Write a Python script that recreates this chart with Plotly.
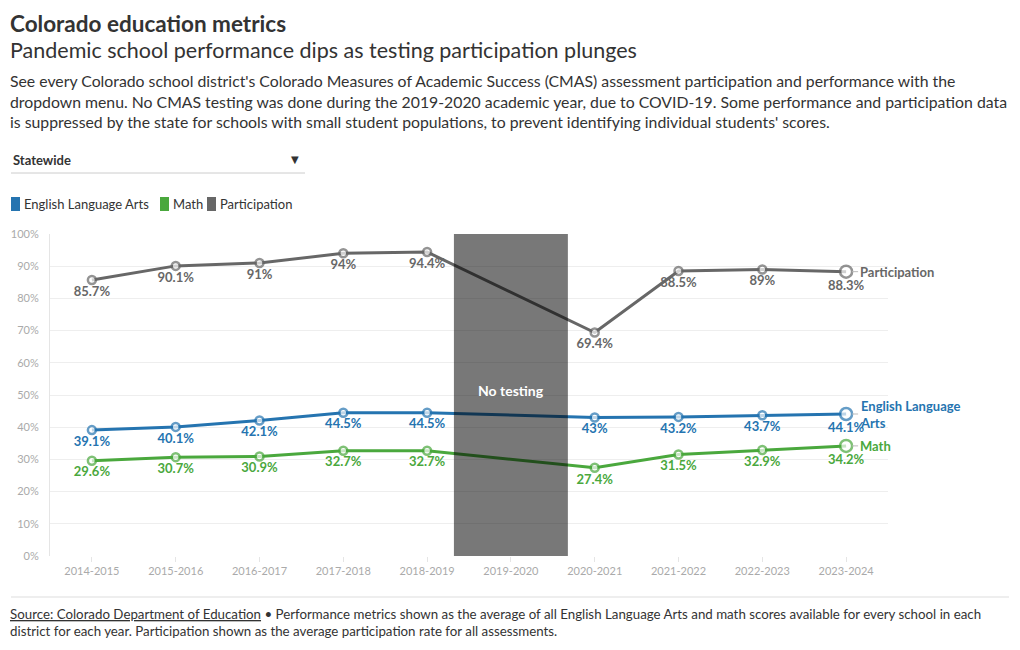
import plotly.graph_objects as go

years = ["2014-2015", "2015-2016", "2016-2017", "2017-2018", "2018-2019",
         "2019-2020", "2020-2021", "2021-2022", "2022-2023", "2023-2024"]
ela = [39.1, 40.1, 42.1, 44.5, 44.5, None, 43.0, 43.2, 43.7, 44.1]
math = [29.6, 30.7, 30.9, 32.7, 32.7, None, 27.4, 31.5, 32.9, 34.2]
participation = [85.7, 90.1, 91.0, 94.0, 94.4, None, 69.4, 88.5, 89.0, 88.3]
y_ticks = [0, 10, 20, 30, 40, 50, 60, 70, 80, 90, 100]
y_tick_labels = [f"{v}%" for v in y_ticks]

FONT = "Lato, 'Noto Sans', sans-serif"
C_ELA = "#2574b0"
C_MATH = "#4aa83d"
C_PART = "#676767"

W, H = 1020, 650
L, R, T, B = 50, 888, 234, 556
PAD = 3  # annotation inner padding compensation


def px(x):
    return (x - L) / (R - L)


def py(y):
    return (B - y) / (B - T)


def fmt(v):
    s = f"{v:.1f}"
    if s.endswith(".0"):
        s = s[:-2]
    return s + "%"


fig = go.Figure()

series = [("English Language Arts", ela, C_ELA),
          ("Math", math, C_MATH),
          ("Participation", participation, C_PART)]

for name, vals, col in series:
    n = len(vals)
    sizes = [8] * (n - 1) + [12]
    fig.add_trace(go.Scatter(
        x=years, y=vals, mode="lines+markers+text", name=name,
        connectgaps=True, showlegend=False,
        line=dict(color=col, width=3),
        marker=dict(size=sizes, color="white", line=dict(color=col, width=2.5)),
        text=[fmt(v) if v is not None else "" for v in vals],
        textposition="bottom center",
        textfont=dict(family=FONT, size=13, color=col, weight="bold"),
        cliponaxis=False,
        hoverinfo="skip",
    ))

# "No testing" band
fig.add_shape(type="rect", xref="x", yref="paper", x0=4.32, x1=5.68, y0=0, y1=1,
              fillcolor="rgba(0,0,0,0.53)", line=dict(width=0), layer="above")
fig.add_annotation(x=5, y=py(390), xref="x", yref="paper", text="<b>No testing</b>",
                   showarrow=False, font=dict(family=FONT, size=14, color="white"))

# end labels
end_labels = [("Participation", participation[-1], C_PART),
              ("English Language<br>Arts", ela[-1], C_ELA),
              ("Math", math[-1], C_MATH)]
for txt, v, col in end_labels:
    fig.add_annotation(
        x=years[-1], y=v, xref="x", yref="y", text=f"<b>{txt}</b>",
        showarrow=True, arrowhead=0, arrowwidth=1, arrowcolor="#bbbbbb",
        ax=12, ay=0, standoff=6, xanchor="left", yanchor="middle", align="left",
        font=dict(family=FONT, size=13, color=col),
    )

# legend (imitation)
legend_items = [("English Language Arts", C_ELA, 11), ("Math", C_MATH, 160), ("Participation", C_PART, 207)]
for name, col, x0 in legend_items:
    fig.add_shape(type="rect", xref="paper", yref="paper", x0=px(x0), x1=px(x0 + 9),
                  y0=py(211), y1=py(197), fillcolor=col, line=dict(width=0))
    fig.add_annotation(x=px(x0 + 13 - PAD + 1), y=py(204), xref="paper", yref="paper",
                       xanchor="left", yanchor="middle", text=name, showarrow=False,
                       font=dict(family=FONT, size=13, color="#333333"))

# header texts
fig.add_annotation(x=px(11 - PAD), y=py(23), xref="paper", yref="paper", xanchor="left", yanchor="middle",
                   text="<b>Colorado education metrics</b>", showarrow=False,
                   font=dict(family=FONT, size=22.5, color="#333333"))
fig.add_annotation(x=px(11 - PAD), y=py(50), xref="paper", yref="paper", xanchor="left", yanchor="middle",
                   text="Pandemic school performance dips as testing participation plunges", showarrow=False,
                   font=dict(family=FONT, size=21.5, color="#333333"))
fig.add_annotation(
    x=px(11 - PAD), y=py(101), xref="paper", yref="paper", xanchor="left", yanchor="middle", align="left",
    text=("See every Colorado school district's Colorado Measures of Academic Success (CMAS) assessment participation and performance with the<br>"
          "dropdown menu. No CMAS testing was done during the 2019-2020 academic year, due to COVID-19. Some performance and participation data<br>"
          "is suppressed by the state for schools with small student populations, to prevent identifying individual students' scores."),
    showarrow=False, font=dict(family=FONT, size=15.8, color="#333333"))

# dropdown imitation
fig.add_annotation(x=px(14 - PAD), y=py(160), xref="paper", yref="paper", xanchor="left", yanchor="middle",
                   text="<b>Statewide</b>", showarrow=False, font=dict(family=FONT, size=13, color="#333333"))
fig.add_annotation(x=px(295), y=py(160), xref="paper", yref="paper", xanchor="center", yanchor="middle",
                   text="▼", showarrow=False, font=dict(family="DejaVu Sans", size=10, color="#333333"))
fig.add_shape(type="line", xref="paper", yref="paper", x0=px(11), x1=px(305), y0=py(173), y1=py(173),
              line=dict(color="#cccccc", width=1))

# footer
fig.add_shape(type="line", xref="paper", yref="paper", x0=px(11), x1=px(1009), y0=py(597), y1=py(597),
              line=dict(color="#dddddd", width=1))
fig.add_annotation(
    x=px(11 - PAD), y=py(622), xref="paper", yref="paper", xanchor="left", yanchor="middle", align="left",
    text=("<span style='text-decoration:underline'>Source: Colorado Department of Education</span> • Performance metrics shown as the average of all English Language Arts and math scores available for every school in each<br>"
          "district for each year. Participation shown as the average participation rate for all assessments."),
    showarrow=False, font=dict(family=FONT, size=13.3, color="#333333"))

fig.update_layout(
    width=W, height=H,
    margin=dict(l=L, r=W - R, t=T, b=H - B),
    paper_bgcolor="white", plot_bgcolor="white",
    font=dict(family=FONT, color="#333333"),
    showlegend=False,
    xaxis=dict(type="category", categoryorder="array", categoryarray=years, range=[-0.5, 9.5],
               showgrid=False, showline=False, zeroline=False, ticks="outside", ticklen=5,
               tickcolor="#e5e5e5", tickfont=dict(family=FONT, size=11, color="#aaaaaa")),
    yaxis=dict(range=[0, 100], tickvals=y_ticks, ticktext=y_tick_labels, showgrid=True,
               gridcolor="#eeeeee", showline=True, linecolor="#e5e5e5", zeroline=False,
               ticks="outside", ticklen=8, tickcolor="#ffffff",
               tickfont=dict(family=FONT, size=11, color="#aaaaaa")),
    hovermode=False,
)

fig.write_html("out.html")
